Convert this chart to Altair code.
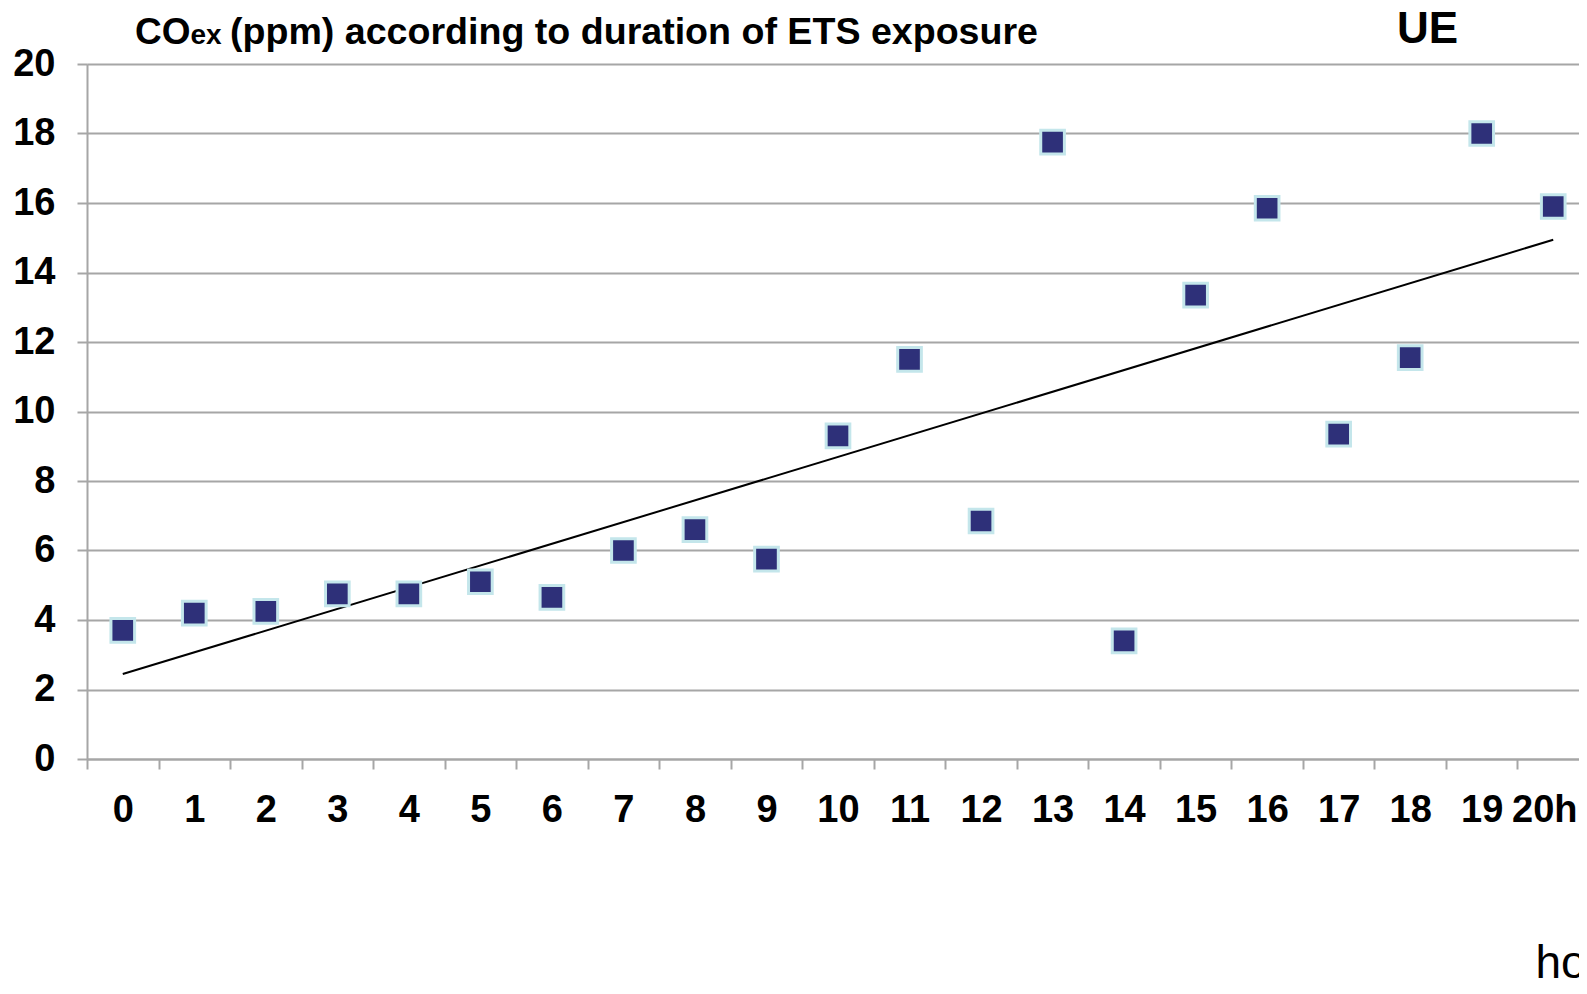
import altair as alt
import pandas as pd

# ---- data ----
hours = [0, 1, 2, 3, 4, 5, 6, 7, 8, 9, 10, 11, 12, 13, 14, 15, 16, 17, 18, 19, 20]
hour_labels = ["0", "1", "2", "3", "4", "5", "6", "7", "8", "9", "10", "11", "12",
               "13", "14", "15", "16", "17", "18", "19", "20h"]
coex = [3.7, 4.2, 4.25, 4.75, 4.75, 5.1, 4.65, 6.0, 6.6, 5.75, 9.3, 11.5, 6.85,
        17.75, 3.4, 13.35, 15.85, 9.35, 11.55, 18.0, 15.9]
y_ticks = [0, 2, 4, 6, 8, 10, 12, 14, 16, 18, 20]

title_main = "CO"
title_sub = "ex"
title_rest = "(ppm) according to duration of ETS exposure"
corner_label = "UE"
x_title = "hours"

df = pd.DataFrame({"hour": hours, "label": hour_labels, "coex": coex})

FONT = "Liberation Sans"
GRAY = "#a6a6a6"
W, H = 1492, 695     # visible plot area (svg stops at the window edge)
XRANGE = 1502        # full band range, runs past the visible edge as in the reference

y_scale = alt.Scale(domain=[0, 20], nice=False, zero=True)

points = alt.Chart(df).mark_square(
    size=560, color="#2e3079", opacity=1, stroke="#c4e6eb", strokeWidth=3, filled=True
).encode(
    x=alt.X("label:O", sort=hour_labels,
            scale=alt.Scale(type="band", paddingInner=0, paddingOuter=0, range=[0, XRANGE]),
            axis=alt.Axis(title=x_title, labelAngle=0, tickBand="extent",
                          domainColor=GRAY, domainWidth=2, tickColor=GRAY, tickWidth=2,
                          tickSize=10, labelFont=FONT, labelFontSize=38,
                          labelFontWeight="bold", labelColor="black", labelPadding=22,
                          labelOffset=alt.condition(alt.datum.value == "20h",
                                                    alt.value(-9), alt.value(0)),
                          grid=False, titleFont=FONT, titleFontSize=46,
                          titleFontWeight="normal", titleColor="black",
                          titleX=1448, titleY=218, titleAlign="left",
                          titleBaseline="alphabetic", titleAnchor="start")),
    y=alt.Y("coex:Q", scale=y_scale,
            axis=alt.Axis(title=None, values=y_ticks, grid=True, gridColor=GRAY,
                          gridWidth=2, domainColor=GRAY, domainWidth=2, tickColor=GRAY,
                          tickWidth=2, tickSize=10, labelFont=FONT, labelFontSize=38,
                          labelFontWeight="bold", labelColor="black", labelPadding=22)),
)

trend = alt.Chart(df).transform_regression(
    "hour", "coex", extent=[0, 20]
).mark_line(color="black", strokeWidth=2).encode(
    x=alt.X("hour:Q", scale=alt.Scale(domain=[-0.5, 20.5], nice=False, zero=False,
                                      range=[0, XRANGE]), axis=None),
    y=alt.Y("coex:Q", scale=y_scale),
)

def text_layer(txt, size, xpos, ypos):
    return alt.Chart(pd.DataFrame({"t": [txt]})).mark_text(
        font=FONT, fontSize=size, fontWeight="bold", align="left",
        baseline="alphabetic", color="black"
    ).encode(x=alt.value(xpos), y=alt.value(ypos), text="t:N")

t1 = text_layer(title_main, 37, 48, -20)
t2 = text_layer(title_sub, 28, 103.5, -20)
t3 = text_layer(title_rest, 37.6, 143, -20)
t4 = text_layer(corner_label, 44, 1310, -21)

chart = alt.layer(trend, points, t1, t2, t3, t4).resolve_scale(
    x="independent"
).properties(
    width=W, height=H,
    autosize=alt.AutoSizeParams(type="none"),
    padding={"left": 79, "top": 56, "right": 0, "bottom": 219},
).configure_view(stroke=None).configure(background="white")

chart.save("out.html", embed_options={"renderer": "svg", "actions": False})
